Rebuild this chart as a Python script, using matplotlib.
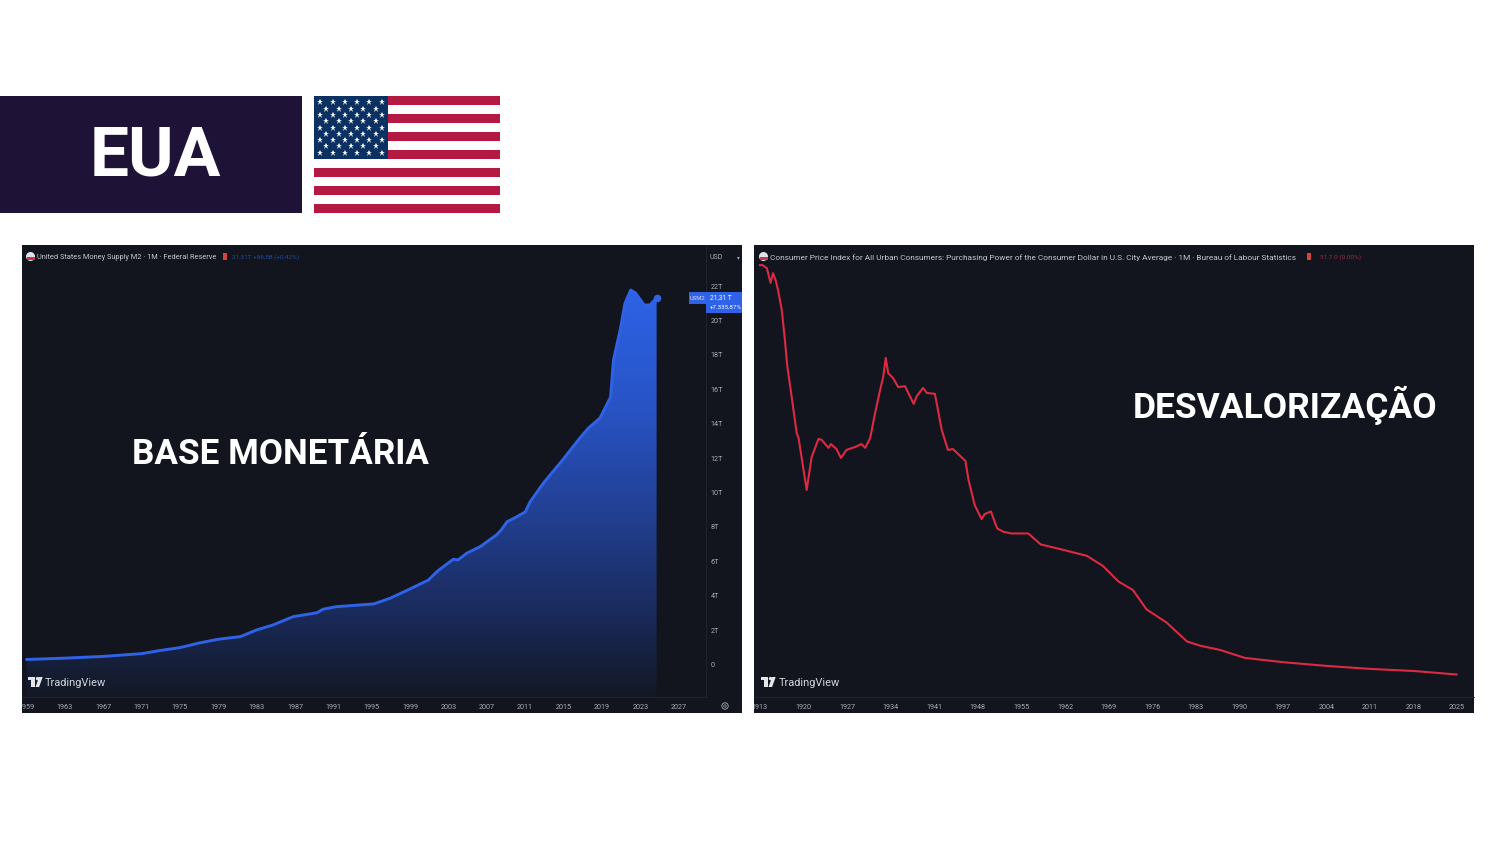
import numpy as np
import matplotlib
matplotlib.use("Agg")
import matplotlib.pyplot as plt
from matplotlib.colors import LinearSegmentedColormap
from matplotlib.patches import Rectangle, Circle, Polygon

plt.rcParams['font.family'] = ['Roboto', 'DejaVu Sans']

# M2 money supply, trillions of USD
m2_years = [1959, 1963, 1967, 1971, 1973, 1975, 1977, 1979, 1981.3, 1983.0, 1984.7, 1986.8, 1989.3, 1989.9,
            1991.3, 1995.2, 1996.9, 1998.6, 2000.9, 2001.9, 2003.5, 2004.0, 2004.9, 2006.3, 2008.0, 2008.5,
            2009.1, 2010.1, 2011.0, 2011.5, 2012.9, 2014.9, 2016.7, 2017.6, 2018.8, 2019.9, 2020.2, 2020.9,
            2021.4, 2022.0, 2022.5, 2023.4, 2024.0, 2024.7]
m2_values = [0.29, 0.37, 0.47, 0.63, 0.82, 0.98, 1.25, 1.47, 1.62, 2.01, 2.30, 2.78, 3.01, 3.21,
             3.36, 3.52, 3.85, 4.29, 4.91, 5.45, 6.12, 6.08, 6.47, 6.85, 7.53, 7.82,
             8.30, 8.58, 8.87, 9.45, 10.55, 11.89, 13.17, 13.75, 14.33, 15.55, 17.70, 19.45,
             21.00, 21.77, 21.60, 20.90, 20.90, 21.31]
m2_xticks = [1959, 1963, 1967, 1971, 1975, 1979, 1983, 1987, 1991, 1995, 1999, 2003, 2007, 2011,
             2015, 2019, 2023, 2027]
m2_yticks = [0, 2, 4, 6, 8, 10, 12, 14, 16, 18, 20, 22]
m2_ylabels = ['0', '2T', '4T', '6T', '8T', '10T', '12T', '14T', '16T', '18T', '20T', '22T']

# purchasing power of the dollar
cpi_years = [1913.0, 1913.4, 1914.1, 1914.7, 1915.1, 1915.5, 1915.9, 1916.5, 1917.0, 1917.4,
             1918.1, 1918.9, 1919.2, 1920.5, 1921.3, 1922.4, 1922.9, 1924.0, 1924.4, 1925.3,
             1926.0, 1926.9, 1928.3, 1929.3, 1929.9, 1930.7, 1931.5, 1932.3, 1932.8, 1933.2,
             1933.6, 1934.4, 1935.2, 1936.3, 1937.7, 1938.2, 1939.2, 1939.8, 1941.1, 1942.2,
             1943.2, 1944.0, 1946.0, 1946.5, 1947.5, 1948.6, 1949.1, 1950.1, 1951.1, 1952.1,
             1953.4, 1956.1, 1958.1, 1961.2, 1965.5, 1968.1, 1970.6, 1972.9, 1975.1, 1978.3,
             1981.6, 1983.7, 1986.9, 1990.9, 1997.0, 2004.1, 2011.0, 2018.1, 2022.2, 2024.9]
cpi_values = [1002, 1002, 995, 960, 983, 967, 943, 896, 825, 761,
              689, 604, 592, 469, 547, 590, 588, 569, 578, 566,
              545, 564, 571, 578, 569, 592, 652, 706, 737, 782,
              746, 734, 713, 715, 673, 692, 711, 699, 697, 611,
              564, 566, 538, 493, 433, 400, 412, 418, 378, 370,
              366, 366, 340, 329, 313, 289, 252, 232, 186, 155,
              110, 100, 90, 71, 61, 52, 45, 40, 35, 31.7]
cpi_xticks = [1913, 1920, 1927, 1934, 1941, 1948, 1955, 1962, 1969, 1976, 1983, 1990, 1997, 2004,
              2011, 2018, 2025]

W, H = 1500, 844
BG = '#12151e'
GRID = '#23262f'
TXT = '#a9acb3'
BLUE = '#2f62e6'
RED = '#dc2a42'


def axes_px(x0, y0, x1, y1):
    return fig.add_axes([x0 / W, 1 - y1 / H, (x1 - x0) / W, (y1 - y0) / H])


def style_axes(ax, xticks):
    ax.set_facecolor(BG)
    for s in ax.spines.values():
        s.set_visible(False)
    ax.spines['bottom'].set_visible(True)
    ax.spines['bottom'].set_color(GRID)
    ax.spines['bottom'].set_linewidth(0.6)
    ax.set_xticks(xticks)
    ax.set_xticklabels([str(v) for v in xticks])
    ax.tick_params(axis='x', length=0, pad=5.2, labelsize=5.2, labelcolor=TXT)
    ax.set_yticks([])


def tv_logo(ax, x):
    # the TradingView mark, drawn from simple shapes
    ax.add_patch(Rectangle((x, 677), 7.5, 3.2, color='#e4e6ea', lw=0))
    ax.add_patch(Rectangle((x + 3.6, 677), 3.9, 10, color='#e4e6ea', lw=0))
    ax.add_patch(Circle((x + 10, 678.6), 1.7, color='#e4e6ea', lw=0))
    ax.add_patch(Polygon([(x + 8, 687), (x + 11.6, 687), (x + 15.2, 677), (x + 11.6, 677)], color='#e4e6ea', lw=0))


fig = plt.figure(figsize=(15, 8.44), dpi=100, facecolor='white')

# whole-page layer in pixel coordinates
page = fig.add_axes([0, 0, 1, 1], zorder=0)
page.set_xlim(0, W)
page.set_ylim(H, 0)
page.axis('off')

# title block
page.add_patch(Rectangle((0, 96), 301.5, 116.5, color='#1e1236', lw=0))
page.text(155.5, 156.5, 'EUA', color='white', fontsize=50, fontweight='bold', ha='center', va='center')

# flag
for i in range(13):
    page.add_patch(Rectangle((314, 96 + i * 9), 186, 9, color='#b31942' if i % 2 == 0 else 'white', lw=0))
page.add_patch(Rectangle((314, 96), 74, 63, color='#0a3161', lw=0))
for row in range(9):
    n = 6 if row % 2 == 0 else 5
    for col in range(n):
        sx = 320.2 + col * 12.3 + (0 if row % 2 == 0 else 6.15)
        page.plot(sx, 102.3 + row * 6.3, marker='*', ms=4.6, color='white', mew=0)

# panel backgrounds with the bottom/right scale areas
page.add_patch(Rectangle((22, 245), 720, 467.5, color=BG, lw=0))
page.add_patch(Rectangle((754, 245), 720, 467.5, color=BG, lw=0))

# left chart
ax1 = axes_px(22, 245, 706, 697)
style_axes(ax1, m2_xticks)
grad_cmap = LinearSegmentedColormap.from_list('m2', [(0, '#2d63e8'), (0.3, '#2853c4'), (0.55, '#224093'),
                                                     (0.8, '#1a2a5a'), (1, '#131824')])
grad = np.linspace(0, 1, 256).reshape(-1, 1)
poly = ax1.fill_between(m2_years, m2_values, -1.89, color='none', lw=0)
im = ax1.imshow(grad, extent=[1958, 2025, -1.89, 22], aspect='auto', cmap=grad_cmap, zorder=1)
im.set_clip_path(poly.get_paths()[0], transform=ax1.transData)
ax1.set_xlim(1958.53, 2029.85)
ax1.set_ylim(-1.89, 24.39)
ax1.plot(m2_years, m2_values, color=BLUE, lw=2.1, zorder=2, solid_capstyle='round')
ax1.plot(m2_years[-1], m2_values[-1], 'o', color=BLUE, ms=5.5, mew=0, zorder=3)
ax1.spines['right'].set_visible(True)
ax1.spines['right'].set_color(GRID)
ax1.spines['right'].set_linewidth(0.6)
ax1.yaxis.tick_right()
ax1.set_yticks(m2_yticks)
ax1.set_yticklabels(m2_ylabels)
ax1.tick_params(axis='y', length=0, pad=3.2, labelsize=5.2, labelcolor=TXT)
for lab in ax1.get_yticklabels():
    lab.set_horizontalalignment('left')

# right chart
ax2 = axes_px(754, 245, 1474, 697)
style_axes(ax2, cpi_xticks)
ax2.set_xlim(1912.04, 2027.7)
ax2.set_ylim(-21.6, 1049.7)
ax2.plot(cpi_years, cpi_values, color=RED, lw=1.5, solid_joinstyle='round')

# cut year labels at the panel edge, as in the screenshot
for ax, x0 in ((ax1, 22), (ax2, 754)):
    clip = Rectangle((x0, 0), 720, H, transform=page.transData)
    for lab in ax.get_xticklabels():
        lab.set_clip_on(True)
        lab.set_clip_path(clip)

# overlay for text that sits on top of the charts
top = fig.add_axes([0, 0, 1, 1], zorder=5)
top.set_xlim(0, W)
top.set_ylim(H, 0)
top.axis('off')

top.text(132, 464, 'BASE MONETÁRIA', color='white', fontsize=25.2, fontweight='bold', va='baseline')
top.text(1133, 418, 'DESVALORIZAÇÃO', color='white', fontsize=25.45, fontweight='bold', va='baseline')

# legend rows
top.add_patch(Circle((30.5, 256.5), 4.5, color='#dfe3ea', lw=0))
top.add_patch(Rectangle((26.5, 257), 8, 2.5, color='#c8374a', lw=0))
top.text(37, 257.5, 'United States Money Supply M2 · 1M · Federal Reserve', color='#c3c6cc', fontsize=5.35, va='center')
top.add_patch(Rectangle((222.5, 253), 4, 7, color='#d8423f', lw=0))
top.text(232, 257.5, '21,31T +86,5B (+0,42%)', color='#1f4aa8', fontsize=4.6, va='center')

top.add_patch(Circle((763.5, 256.5), 4.5, color='#dfe3ea', lw=0))
top.add_patch(Rectangle((759.5, 257), 8, 2.5, color='#c8374a', lw=0))
top.text(770, 257.5, 'Consumer Price Index for All Urban Consumers: Purchasing Power of the Consumer Dollar '
                     'in U.S. City Average · 1M · Bureau of Labour Statistics',
         color='#c3c6cc', fontsize=5.98, va='center')
top.add_patch(Rectangle((1307, 253), 4, 7, color='#d8423f', lw=0))
top.text(1320, 257.5, '31.7 0 (0.00%)', color='#a32a38', fontsize=4.6, va='center')

# price scale extras
top.text(710, 257.5, 'USD', color=TXT, fontsize=5, va='center')
top.text(737, 257.5, '▾', color=TXT, fontsize=4, va='center')
top.add_patch(Rectangle((689, 292), 17, 12, color=BLUE, lw=0))
top.add_patch(Rectangle((706, 292), 35.5, 21, color=BLUE, lw=0))
top.text(697.5, 298, 'USM2', color='#d5ddf5', fontsize=4.2, ha='center', va='center')
top.text(710, 297.5, '21,31 T', color='white', fontsize=4.8, va='center')
top.text(710, 307.5, '+7.335,87%', color='white', fontsize=4.4, va='center')
top.add_patch(Circle((725, 706), 3.2, fc='none', ec=TXT, lw=0.6))
top.add_patch(Circle((725, 706), 1.2, fc='none', ec=TXT, lw=0.5))

# TradingView marks
tv_logo(top, 27.5)
top.text(45, 682.5, 'TradingView', color='#d2d4d9', fontsize=7.9, va='center')
tv_logo(top, 760.5)
top.text(779, 682.5, 'TradingView', color='#d2d4d9', fontsize=7.9, va='center')

fig.savefig('out.png', dpi=100, facecolor='white')
